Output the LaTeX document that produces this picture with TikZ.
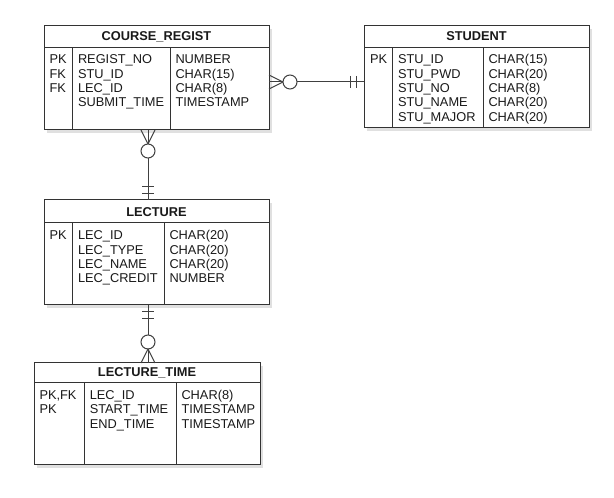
\documentclass[tikz,border=0pt]{standalone}
\usepackage{fontspec}
\setmainfont{Liberation Sans}
\usetikzlibrary{shadows}
\begin{document}
\begin{tikzpicture}[x=0.75pt,y=-0.75pt,line width=0.75pt,
  ebox/.style={draw=black!80,fill=white,inner sep=0pt,outer sep=0pt,
    drop shadow={shadow xshift=2.25pt,shadow yshift=-2.25pt,fill=black!12,opacity=1}},
  txt/.style={inner sep=0pt,anchor=base west,font=\fontsize{9.6}{11}\selectfont,text=black!90},
  ttl/.style={inner sep=0pt,anchor=base,font=\fontsize{9.6}{11}\selectfont\bfseries,text=black!90},
  sep/.style={draw=black!80},
  conn/.style={draw=black!75},
  ring/.style={draw=black!75,fill=white}]
\useasboundingbox (0,0) rectangle (614,498);

% ---------- entities ----------
\node[ebox,minimum width=168.75pt,minimum height=78pt] (cr) at (156.5,78) {};
\node[ebox,minimum width=168.75pt,minimum height=76.5pt] (st) at (476.5,77) {};
\node[ebox,minimum width=168.75pt,minimum height=78.75pt] (le) at (156.5,252.5) {};
\node[ebox,minimum width=169.5pt,minimum height=76.5pt] (lt) at (147,414) {};

% header lines and column dividers
\draw[sep] (cr.west |- 0,48) -- (cr.east |- 0,48);
\draw[sep] (72,48) -- (cr.south -| 72,0);
\draw[sep] (170,48) -- (cr.south -| 170,0);

\draw[sep] (st.west |- 0,48) -- (st.east |- 0,48);
\draw[sep] (392,48) -- (st.south -| 392,0);
\draw[sep] (483,48) -- (st.south -| 483,0);

\draw[sep] (le.west |- 0,223) -- (le.east |- 0,223);
\draw[sep] (72,223) -- (le.south -| 72,0);
\draw[sep] (164,223) -- (le.south -| 164,0);

\draw[sep] (lt.west |- 0,383) -- (lt.east |- 0,383);
\draw[sep] (84,383) -- (lt.south -| 84,0);
\draw[sep] (176,383) -- (lt.south -| 176,0);

% ---------- titles ----------
\node[ttl] (crt) at (156.5,40.6) {COURSE\_REGIST};
\node[ttl] (stt) at (476.5,40.6) {STUDENT};
\node[ttl] (let) at (156.5,216.6) {LECTURE};
\node[ttl] (ltt) at (147,376.6) {LECTURE\_TIME};

% ---------- COURSE_REGIST rows ----------
\foreach \t [count=\i] in {PK,FK,FK}
  \node[txt] (crk\i) at (49,{64+14.3*(\i-1)}) {\t};
\foreach \t [count=\i] in {REGIST\_NO,STU\_ID,LEC\_ID,SUBMIT\_TIME}
  \node[txt] (crn\i) at (77.5,{64+14.3*(\i-1)}) {\t};
\foreach \t [count=\i] in {NUMBER,CHAR(15),CHAR(8),TIMESTAMP}
  \node[txt] (cry\i) at (175,{64+14.3*(\i-1)}) {\t};

% ---------- STUDENT rows ----------
\node[txt] (stk1) at (369.5,64) {PK};
\foreach \t [count=\i] in {STU\_ID,STU\_PWD,STU\_NO,STU\_NAME,STU\_MAJOR}
  \node[txt] (stn\i) at (397.5,{64+14.3*(\i-1)}) {\t};
\foreach \t [count=\i] in {CHAR(15),CHAR(20),CHAR(8),CHAR(20),CHAR(20)}
  \node[txt] (sty\i) at (488,{64+14.3*(\i-1)}) {\t};

% ---------- LECTURE rows ----------
\node[txt] (lek1) at (49,240) {PK};
\foreach \t [count=\i] in {LEC\_ID,LEC\_TYPE,LEC\_NAME,LEC\_CREDIT}
  \node[txt] (len\i) at (77.5,{240+14.3*(\i-1)}) {\t};
\foreach \t [count=\i] in {CHAR(20),CHAR(20),CHAR(20),NUMBER}
  \node[txt] (ley\i) at (169,{240+14.3*(\i-1)}) {\t};

% ---------- LECTURE_TIME rows ----------
\foreach \t [count=\i] in {{PK,FK},PK}
  \node[txt] (ltk\i) at (39,{399.7+14.3*(\i-1)}) {\t};
\foreach \t [count=\i] in {LEC\_ID,START\_TIME,END\_TIME}
  \node[txt] (ltn\i) at (89.3,{399.7+14.3*(\i-1)}) {\t};
\foreach \t [count=\i] in {CHAR(8),TIMESTAMP,TIMESTAMP}
  \node[txt] (lty\i) at (181,{399.7+14.3*(\i-1)}) {\t};

% ---------- connector COURSE_REGIST -- STUDENT ----------
\draw[conn] (cr.east |- 0,82) -- (st.west |- 0,82);
\draw[conn] (cr.east |- 0,75) -- (283,82) -- (cr.east |- 0,89);
\draw[ring] (290,82) circle[radius=5.25pt];
\draw[conn] (350,76) -- (350,88);
\draw[conn] (356,76) -- (356,88);

% ---------- connector COURSE_REGIST -- LECTURE ----------
\draw[conn] (cr.south -| 148,0) -- (le.north -| 148,0);
\draw[conn] (cr.south -| 141,0) -- (148,144) -- (cr.south -| 155,0);
\draw[ring] (148,151) circle[radius=5.25pt];
\draw[conn] (142,187) -- (154,187);
\draw[conn] (142,194) -- (154,194);

% ---------- connector LECTURE -- LECTURE_TIME ----------
\draw[conn] (le.south -| 148,0) -- (lt.north -| 148,0);
\draw[conn] (142,312) -- (154,312);
\draw[conn] (142,319) -- (154,319);
\draw[ring] (148,342) circle[radius=5.25pt];
\draw[conn] (lt.north -| 141,0) -- (148,349) -- (lt.north -| 155,0);
\end{tikzpicture}
\end{document}
